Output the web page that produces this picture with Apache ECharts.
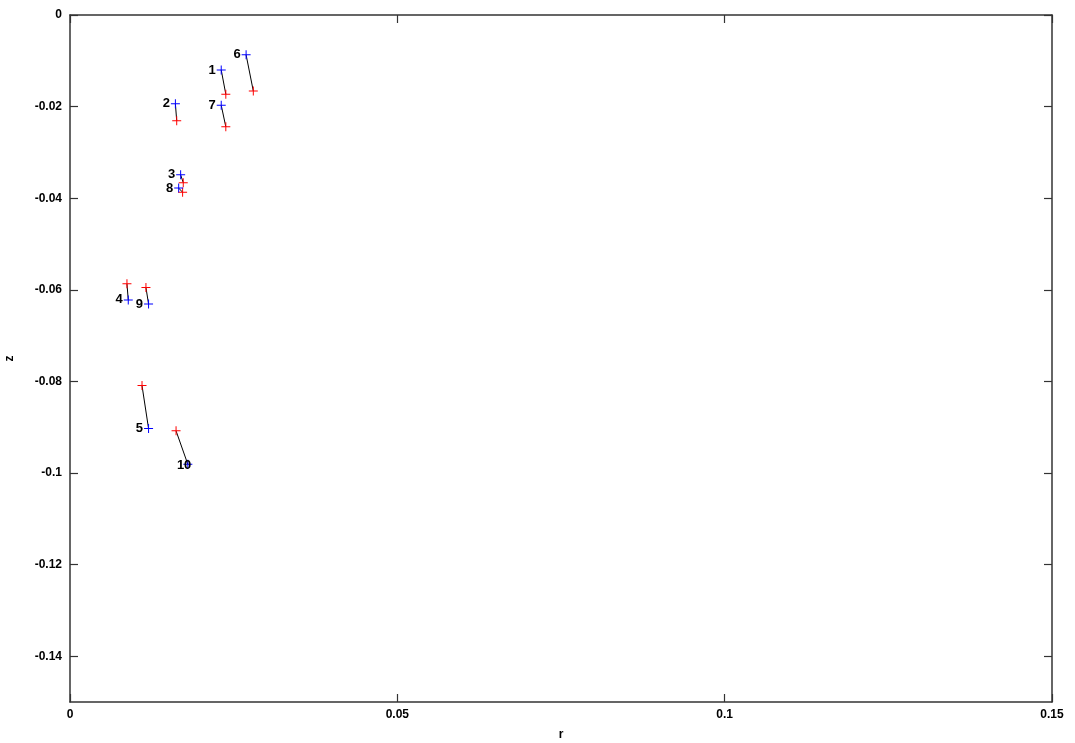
<!DOCTYPE html>
<html>
<head>
<meta charset="utf-8">
<script src="https://cdn.jsdelivr.net/npm/echarts@6/dist/echarts.min.js"></script>
<style>html,body{margin:0;padding:0;background:#fff}#c{width:1075px;height:743px}</style>
</head>
<body>
<div id="c"></div>
<script>
var labels = ['1','2','3','4','5','6','7','8','9','10'];
var blueR = [0.0231, 0.0161, 0.0169, 0.0089, 0.0120, 0.0269, 0.0231, 0.0166, 0.0120, 0.0180];
var blueZ = [-0.0120, -0.0194, -0.0349, -0.0622, -0.0903, -0.0087, -0.0197, -0.0378, -0.0631, -0.0981];
var redR = [0.0238, 0.0163, 0.0173, 0.0087, 0.0110, 0.0280, 0.0238, 0.0172, 0.0116, 0.0162];
var redZ = [-0.0173, -0.0231, -0.0366, -0.0587, -0.0809, -0.0166, -0.0244, -0.0387, -0.0595, -0.0908];
var xTicks = [0, 0.05, 0.1, 0.15];
var yTicks = [0, -0.02, -0.04, -0.06, -0.08, -0.1, -0.12, -0.14];

var plus = 'path://M0,4L9,4L9,5L0,5Z M4,0L5,0L5,9L4,9Z';
var font = {fontFamily: 'Liberation Sans', fontWeight: 'bold', fontSize: 12, color: '#000'};
var axisLine = {onZero: false, lineStyle: {color: '#333', width: 1.5}};
var tick = {inside: true, length: 8, lineStyle: {color: '#333', width: 1.2}};

var lineData = [];
for (var i = 0; i < labels.length; i++) {
  lineData.push({coords: [[blueR[i], blueZ[i]], [redR[i], redZ[i]]]});
}
var blueData = blueR.map(function (r, i) { return {value: [r, blueZ[i]], name: labels[i]}; });
var redData = redR.map(function (r, i) { return [r, redZ[i]]; });

function fmt(v) { return v === 0 ? '0' : String(+v.toFixed(2)); }

var option = {
  animation: false,
  backgroundColor: '#fff',
  grid: {left: 70, right: 23, top: 15, bottom: 41, containLabel: false, outerBoundsMode: 'none'},
  xAxis: [{
    type: 'value', min: 0, max: 0.15, interval: 0.05, position: 'bottom',
    name: 'r', nameLocation: 'middle', nameGap: 27,
    nameTextStyle: font,
    axisLine: axisLine,
    axisTick: tick,
    axisLabel: Object.assign({margin: 7, formatter: fmt, customValues: xTicks}, font),
    splitLine: {show: false}
  }, {
    type: 'value', position: 'top', min: 0, max: 0.15, interval: 0.05,
    axisLine: axisLine,
    axisTick: tick,
    axisLabel: {show: false}, splitLine: {show: false}
  }],
  yAxis: [{
    type: 'value', min: -0.15, max: 0, position: 'left',
    name: 'z', nameLocation: 'middle', nameGap: 54, nameRotate: 90,
    nameTextStyle: font,
    axisLine: axisLine,
    axisTick: Object.assign({customValues: yTicks}, tick),
    axisLabel: Object.assign({margin: 8, formatter: fmt, customValues: yTicks}, font),
    splitLine: {show: false}
  }, {
    type: 'value', position: 'right', min: -0.15, max: 0,
    axisLine: axisLine,
    axisTick: Object.assign({customValues: yTicks}, tick),
    axisLabel: {show: false}, splitLine: {show: false}
  }],
  series: [{
    type: 'lines', coordinateSystem: 'cartesian2d', polyline: false,
    symbol: 'none',
    lineStyle: {color: '#000', width: 1, opacity: 1},
    data: lineData, z: 1
  }, {
    type: 'scatter', symbol: plus, symbolSize: 9,
    itemStyle: {color: '#ff0000', opacity: 1},
    data: redData, z: 2
  }, {
    type: 'scatter', symbol: plus, symbolSize: 9,
    itemStyle: {color: '#0000ff', opacity: 1},
    label: {
      show: true, position: 'left', distance: 1,
      formatter: function (p) { return p.name; },
      fontFamily: 'Liberation Sans', fontWeight: 'bold', fontSize: 13, color: '#000'
    },
    labelLayout: function (p) {
      if (p.text === '10') { return {dx: 9, dy: 1}; }
      return {};
    },
    data: blueData, z: 3
  }]
};
var chart = echarts.init(document.getElementById('c'), null, {renderer: 'canvas'});
chart.setOption(option);
</script>
</body>
</html>
